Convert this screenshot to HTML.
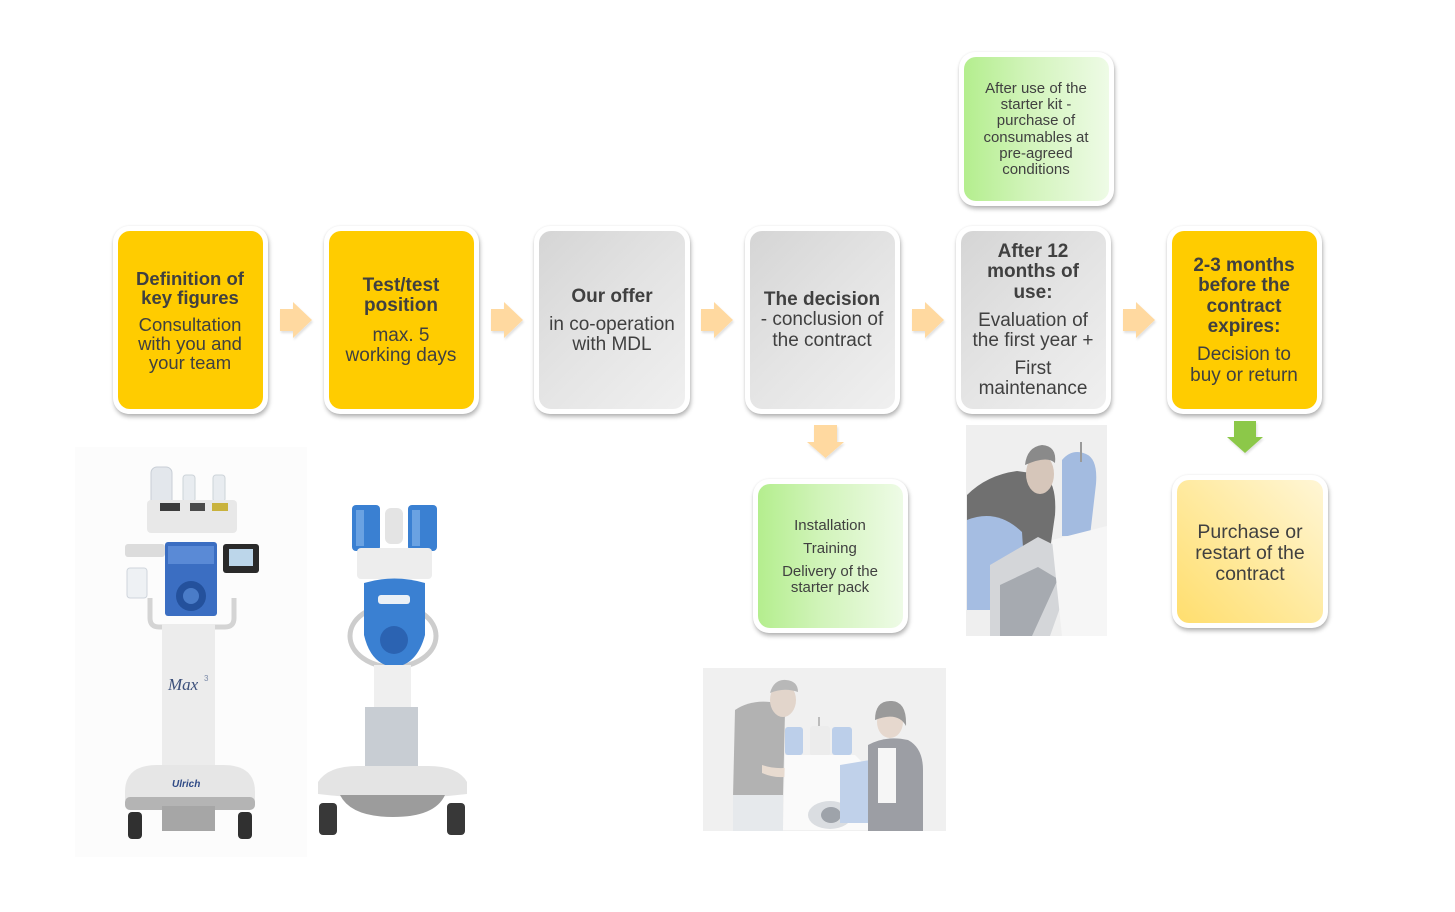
<!DOCTYPE html>
<html>
<head>
<meta charset="utf-8">
<style>
  html,body{margin:0;padding:0;background:#fff;}
  #c{position:relative;width:1455px;height:912px;overflow:hidden;background:#fff;
     font-family:"Liberation Sans",Arial,sans-serif;color:#404040;}
  .f{position:absolute;background:#fff;border-radius:16px;
     box-shadow:1px 3px 4px rgba(0,0,0,0.28), 0 0 2px rgba(0,0,0,0.08);}
  .in{position:absolute;left:5px;top:5px;right:5px;bottom:5px;border-radius:12px;}
  .y{background:#FFCC00;}
  .g{background:linear-gradient(135deg,#d5d5d5 0%,#e4e4e4 50%,#f0f0f0 100%);}
  .gr{background:linear-gradient(90deg,#b4ee8e 0%,#d2f4bb 45%,#eefbe6 100%);}
  .pu{background:linear-gradient(45deg,#ffde6e 0%,#ffeaa0 50%,#fff6d6 100%);}
  .t{position:absolute;width:220px;text-align:center;white-space:nowrap;
     font-size:19px;line-height:22px;height:22px;}
  .b{font-weight:bold;}
  .s{font-size:15px;line-height:16px;height:16px;}
  svg{position:absolute;left:0;top:0;}
</style>
</head>
<body>
<div id="c">

<svg width="1455" height="912" viewBox="0 0 1455 912">
  <defs>
    <filter id="sh" x="-20%" y="-20%" width="140%" height="140%">
      <feDropShadow dx="1" dy="2" stdDeviation="1" flood-color="#000" flood-opacity="0.12"/>
    </filter>
  </defs>

  <!-- right arrows -->
  <g fill="#FFD9A0" filter="url(#sh)">
    <polygon points="280,309 293,309 293,302 312,320 293,338 293,331 280,331"/>
    <polygon points="491,309 504,309 504,302 523,320 504,338 504,331 491,331"/>
    <polygon points="701,309 714,309 714,302 733,320 714,338 714,331 701,331"/>
    <polygon points="912,309 925,309 925,302 944,320 925,338 925,331 912,331"/>
    <polygon points="1123,309 1136,309 1136,302 1155,320 1136,338 1136,331 1123,331"/>
    <!-- down orange -->
    <polygon points="814,425 837,425 837,442 844,442 825.5,458 807,442 814,442"/>
  </g>
  <!-- green down -->
  <polygon points="1234,421 1256,421 1256,437 1263,437 1245,453 1227,437 1234,437" fill="#8CC84A" filter="url(#sh)"/>

  <!-- ===== Machine 1 photo ===== -->
  <rect x="75" y="447" width="232" height="410" fill="#fcfcfc"/>
  <rect x="151" y="467" width="21" height="40" rx="6" fill="#e3e7ec" stroke="#c8ced6"/>
  <rect x="183" y="475" width="12" height="27" rx="3" fill="#e8ecf0" stroke="#cdd3d9"/>
  <rect x="213" y="475" width="12" height="27" rx="3" fill="#e8ecf0" stroke="#cdd3d9"/>
  <rect x="147" y="500" width="90" height="33" rx="4" fill="#e8e8e8"/>
  <rect x="160" y="503" width="20" height="8" fill="#3c3c3c"/>
  <rect x="190" y="503" width="15" height="8" fill="#4a4a4a"/>
  <rect x="212" y="503" width="16" height="8" fill="#c9b23c"/>
  <rect x="125" y="544" width="40" height="13" rx="3" fill="#dcdcdc"/>
  <rect x="127" y="568" width="20" height="30" rx="3" fill="#eef1f4" stroke="#cfd5dc"/>
  <rect x="165" y="542" width="52" height="74" rx="3" fill="#3b6ec2"/>
  <rect x="168" y="546" width="46" height="18" fill="#5a8ad6"/>
  <circle cx="191" cy="596" r="15" fill="#24519c"/>
  <circle cx="191" cy="596" r="8" fill="#4a7cc8"/>
  <rect x="223" y="544" width="36" height="29" rx="3" fill="#2a2a2a"/>
  <rect x="229" y="549" width="24" height="17" fill="#bcd6ea"/>
  <path d="M150 598 v20 q0 9 9 9 h66 q9 0 9 -9 v-20" fill="none" stroke="#d4d4d4" stroke-width="5"/>
  <rect x="162" y="624" width="53" height="150" fill="#ececec"/>
  <text x="168" y="690" font-family="Liberation Serif,serif" font-style="italic" font-size="17" fill="#3b4f7a">Max</text>
  <text x="204" y="681" font-family="Liberation Sans,sans-serif" font-size="8" fill="#7a8aa8">3</text>
  <path d="M125 792 q0 -27 32 -27 h66 q32 0 32 27 v8 h-130z" fill="#e6e6e6"/>
  <text x="172" y="787" font-family="Liberation Sans,sans-serif" font-weight="bold" font-style="italic" font-size="10" fill="#2f4a86">Ulrich</text>
  <rect x="125" y="797" width="130" height="13" rx="5" fill="#b4b4b4"/>
  <rect x="162" y="806" width="53" height="25" fill="#a6a6a6"/>
  <rect x="128" y="812" width="14" height="27" rx="4" fill="#303030"/>
  <rect x="238" y="812" width="14" height="27" rx="4" fill="#303030"/>

  <!-- ===== Machine 2 photo ===== -->
  <rect x="352" y="505" width="28" height="46" rx="4" fill="#3a80d2"/>
  <rect x="408" y="505" width="29" height="46" rx="4" fill="#3a80d2"/>
  <rect x="356" y="510" width="8" height="36" fill="#6aa2e2"/>
  <rect x="412" y="510" width="8" height="36" fill="#6aa2e2"/>
  <rect x="385" y="508" width="18" height="36" rx="6" fill="#e4e4e4"/>
  <rect x="357" y="548" width="75" height="31" rx="4" fill="#ededed"/>
  <ellipse cx="393" cy="636" rx="43" ry="31" fill="none" stroke="#cdcdcd" stroke-width="5"/>
  <path d="M364 583 q30 -9 61 0 v52 q-8 30 -31 32 q-23 -2 -30 -32z" fill="#3a80d2"/>
  <rect x="378" y="595" width="32" height="9" rx="3" fill="#eaf0f6"/>
  <circle cx="394" cy="640" r="14" fill="#2b63b2"/>
  <rect x="374" y="665" width="37" height="44" fill="#efefef"/>
  <path d="M365 707 h53 v66 q-26 7 -53 0z" fill="#c8cdd3"/>
  <path d="M318 782 q10 -16 40 -16 h70 q30 0 39 16 v12 q-75 9 -149 0z" fill="#e4e4e4"/>
  <path d="M340 795 h105 q-10 22 -52 22 q-42 0 -53 -22z" fill="#9c9c9c"/>
  <rect x="319" y="803" width="18" height="32" rx="4" fill="#383838"/>
  <rect x="447" y="803" width="18" height="32" rx="4" fill="#383838"/>

  <!-- ===== Technician photo ===== -->
  <rect x="966" y="425" width="141" height="211" fill="#efefef"/>
  <path d="M967 495 q20 -20 50 -24 l28 4 q12 10 10 40 l-5 35 h-83z" fill="#707070"/>
  <ellipse cx="1040" cy="474" rx="14" ry="20" fill="#d6c6ba"/>
  <path d="M1025 465 q2 -18 17 -20 q15 1 13 18 q-8 -8 -30 2z" fill="#8a8a8a"/>
  <path d="M967 520 q30 -12 55 12 l5 78 h-60z" fill="#a5bde2"/>
  <path d="M1062 460 q10 -12 24 -6 q12 5 10 30 l-6 52 h-28z" fill="#a3bbe0"/>
  <rect x="1080" y="442" width="2" height="20" fill="#9a9a9a"/>
  <path d="M990 565 l48 -28 l40 20 l-28 79 h-60z" fill="#d4d6d9"/>
  <path d="M1000 585 l38 -18 l20 12 l-26 57 h-32z" fill="#a6aab0"/>
  <path d="M1052 540 l55 -14 v110 h-45z" fill="#f6f6f6"/>

  <!-- ===== Bottom team photo ===== -->
  <rect x="703" y="668" width="243" height="163" fill="#f0f0f0"/>
  <path d="M735 710 q15 -10 35 -8 l15 10 l-2 85 h-50z" fill="#b2b2b2"/>
  <rect x="733" y="795" width="50" height="36" fill="#e6e9ec"/>
  <ellipse cx="783" cy="700" rx="13" ry="17" fill="#e2d5cb"/>
  <path d="M770 693 q4 -14 16 -13 q12 1 12 12 q-14 -5 -28 1z" fill="#b8b8b8"/>
  <path d="M762 765 q15 5 30 2 l2 8 q-16 5 -32 -2z" fill="#e8dbd0"/>
  <rect x="818" y="717" width="2" height="20" fill="#bcbcbc"/>
  <rect x="785" y="727" width="18" height="28" rx="3" fill="#bccfea"/>
  <rect x="810" y="726" width="20" height="30" rx="3" fill="#ececec"/>
  <rect x="832" y="727" width="20" height="28" rx="3" fill="#bccfea"/>
  <path d="M785 755 h70 l20 20 v55 h-92z" fill="#fafafa"/>
  <ellipse cx="830" cy="815" rx="22" ry="14" fill="#dadde1"/>
  <ellipse cx="831" cy="815" rx="10" ry="8" fill="#9ea3aa"/>
  <path d="M840 765 l30 -5 l12 10 l-5 53 h-37z" fill="#c0d1ea"/>
  <path d="M868 745 q18 -10 40 -5 q15 8 15 30 v61 h-55z" fill="#9c9ea4"/>
  <rect x="878" y="748" width="18" height="55" fill="#f6f6f6"/>
  <ellipse cx="890" cy="722" rx="13" ry="16" fill="#e6d8ce"/>
  <path d="M875 720 q0 -20 17 -19 q15 1 14 25 q-8 -15 -31 -6z" fill="#9a9a9a"/>
</svg>

<!-- ===== Main row boxes ===== -->
<div class="f" style="left:113px;top:226px;width:155px;height:188px"><div class="in y"></div></div>
<div class="f" style="left:324px;top:226px;width:155px;height:188px"><div class="in y"></div></div>
<div class="f" style="left:534px;top:226px;width:156px;height:188px"><div class="in g"></div></div>
<div class="f" style="left:745px;top:226px;width:155px;height:188px"><div class="in g"></div></div>
<div class="f" style="left:956px;top:226px;width:155px;height:188px"><div class="in g"></div></div>
<div class="f" style="left:1167px;top:226px;width:155px;height:188px"><div class="in y"></div></div>

<!-- top green -->
<div class="f" style="left:959px;top:52px;width:155px;height:154px"><div class="in gr"></div></div>
<!-- bottom green -->
<div class="f" style="left:753px;top:479px;width:155px;height:154px"><div class="in gr"></div></div>
<!-- purchase -->
<div class="f" style="left:1172px;top:475px;width:156px;height:153px"><div class="in pu"></div></div>

<!-- Box 1 text -->
<div class="t b" style="left:80px;top:268px;font-size:18.5px">Definition of</div>
<div class="t b" style="left:80px;top:287px;font-size:18.5px">key figures</div>
<div class="t" style="left:80px;top:314px;font-size:18.5px">Consultation</div>
<div class="t" style="left:80px;top:333px;font-size:18.5px">with you and</div>
<div class="t" style="left:80px;top:352px;font-size:18.5px">your team</div>

<!-- Box 2 -->
<div class="t b" style="left:291px;top:275px">Test/test</div>
<div class="t b" style="left:291px;top:295px">position</div>
<div class="t" style="left:291px;top:325px">max. 5</div>
<div class="t" style="left:291px;top:345px">working days</div>

<!-- Box 3 -->
<div class="t b" style="left:502px;top:286px">Our offer</div>
<div class="t" style="left:502px;top:314px">in co-operation</div>
<div class="t" style="left:502px;top:334px">with MDL</div>

<!-- Box 4 -->
<div class="t b" style="left:712px;top:289px">The decision</div>
<div class="t" style="left:712px;top:309px">- conclusion of</div>
<div class="t" style="left:712px;top:330px">the contract</div>

<!-- Box 5 -->
<div class="t b" style="left:923px;top:241px">After 12</div>
<div class="t b" style="left:923px;top:261px">months of</div>
<div class="t b" style="left:923px;top:282px">use:</div>
<div class="t" style="left:923px;top:310px">Evaluation of</div>
<div class="t" style="left:923px;top:330px">the first year +</div>
<div class="t" style="left:923px;top:358px">First</div>
<div class="t" style="left:923px;top:378px">maintenance</div>

<!-- Box 6 -->
<div class="t b" style="left:1134px;top:255px">2-3 months</div>
<div class="t b" style="left:1134px;top:275px">before the</div>
<div class="t b" style="left:1134px;top:296px">contract</div>
<div class="t b" style="left:1134px;top:316px">expires:</div>
<div class="t" style="left:1134px;top:344px">Decision to</div>
<div class="t" style="left:1134px;top:365px">buy or return</div>

<!-- Top green text -->
<div class="t s" style="left:926px;top:81px">After use of the</div>
<div class="t s" style="left:926px;top:97px">starter kit -</div>
<div class="t s" style="left:926px;top:113px">purchase of</div>
<div class="t s" style="left:926px;top:130px">consumables at</div>
<div class="t s" style="left:926px;top:146px">pre-agreed</div>
<div class="t s" style="left:926px;top:162px">conditions</div>

<!-- Bottom green text -->
<div class="t s" style="left:720px;top:518px">Installation</div>
<div class="t s" style="left:720px;top:541px">Training</div>
<div class="t s" style="left:720px;top:564px">Delivery of the</div>
<div class="t s" style="left:720px;top:580px">starter pack</div>

<!-- Purchase text -->
<div class="t" style="left:1140px;top:521px;font-size:19.5px">Purchase or</div>
<div class="t" style="left:1140px;top:542px;font-size:19.5px">restart of the</div>
<div class="t" style="left:1140px;top:563px;font-size:19.5px">contract</div>

</div>
</body>
</html>
